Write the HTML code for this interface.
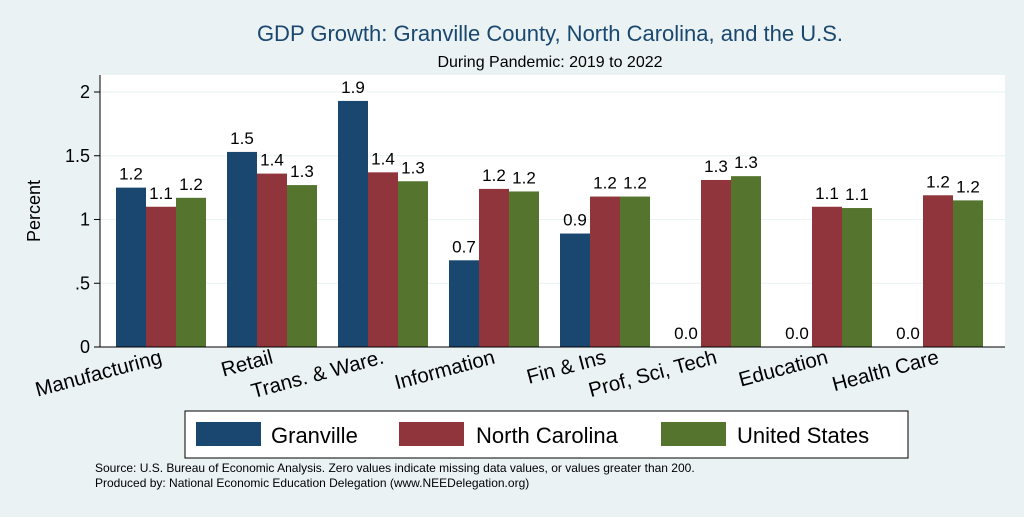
<!DOCTYPE html>
<html><head><meta charset="utf-8"><style>
body{margin:0;background:#eaf2f3;font-family:"Liberation Sans",sans-serif;}
</style></head><body>
<svg id="c" width="1024" height="512" xmlns="http://www.w3.org/2000/svg" font-family="Liberation Sans, sans-serif">
<rect width="1024" height="512" fill="#eaf2f3"/>
<text x="550" y="41" font-size="22" fill="#1a476f" text-anchor="middle">GDP Growth: Granville County, North Carolina, and the U.S.</text>
<text x="550" y="67" font-size="16" fill="#000" text-anchor="middle">During Pandemic: 2019 to 2022</text>
<rect x="100" y="75" width="905" height="272" fill="#fff"/>
<text transform="translate(40,211) rotate(-90)" font-size="18" text-anchor="middle">Percent</text>
<g id="grid"></g><g id="bars"></g>
<line x1="100" y1="75" x2="100" y2="347" stroke="#000"/>
<line x1="100" y1="347" x2="1005" y2="347" stroke="#000"/>
<rect x="185" y="411" width="723" height="47" fill="#fff" stroke="#000"/>
<g><rect x="196" y="422" width="65" height="24" fill="#1a476f"/><text x="271" y="443" font-size="22">Granville</text></g>
<g><rect x="399" y="422" width="65" height="24" fill="#90353b"/><text x="476" y="443" font-size="22">North Carolina</text></g>
<g><rect x="661" y="422" width="65" height="24" fill="#55752f"/><text x="737" y="443" font-size="22">United States</text></g>
<text x="95" y="472" font-size="12">Source: U.S. Bureau of Economic Analysis. Zero values indicate missing data values, or values greater than 200.</text>
<text x="95" y="487" font-size="12">Produced by: National Economic Education Delegation (www.NEEDelegation.org)</text>
</svg>
<script>
const categories=["Manufacturing","Retail","Trans. & Ware.","Information","Fin & Ins","Prof, Sci, Tech","Education","Health Care"];
const granville=[1.25,1.53,1.93,0.68,0.89,0,0,0];
const northCarolina=[1.10,1.36,1.37,1.24,1.18,1.31,1.10,1.19];
const unitedStates=[1.17,1.27,1.30,1.22,1.18,1.34,1.09,1.15];
const granvilleLabels=["1.2","1.5","1.9","0.7","0.9","0.0","0.0","0.0"];
const ncLabels=["1.1","1.4","1.4","1.2","1.2","1.3","1.1","1.2"];
const usLabels=["1.2","1.3","1.3","1.2","1.2","1.3","1.1","1.2"];
const yTicks=[0,0.5,1,1.5,2];
const yTickLabels=["0",".5","1","1.5","2"];
const NS="http://www.w3.org/2000/svg";
const y=v=>347-v*127.5;
const xc=i=>161+i*111;
const grid=document.getElementById('grid'),bars=document.getElementById('bars');
function mk(tag,a,p){const e=document.createElementNS(NS,tag);for(const k in a)e.setAttribute(k,a[k]);p.appendChild(e);return e;}
yTicks.forEach((t,i)=>{
 if(t>0){const g=mk('line',{x1:100,x2:1005,y1:y(t),y2:y(t),stroke:'#eaf2f3','stroke-width':1},grid);
 
 }
 const tk=mk('line',{x1:94,x2:100,y1:y(t),y2:y(t),stroke:'#000'},grid);
 
 
 const tx=mk('text',{x:90,y:y(t)+6,'font-size':18,'text-anchor':'end'},grid);tx.textContent=yTickLabels[i];
 
 
});
const series=[[granville,granvilleLabels,'#1a476f','granville'],[northCarolina,ncLabels,'#90353b','north-carolina'],[unitedStates,usLabels,'#55752f','united-states']];
categories.forEach((c,i)=>{
 series.forEach((s,j)=>{
  const v=s[0][i],x0=xc(i)-45+j*30;
  const r=mk('rect',{x:x0,y:y(v),width:30,height:347-y(v),fill:s[2]},bars);
  
  
  const t=mk('text',{x:x0+15,y:y(v)-8,'font-size':17,'text-anchor':'middle'},bars);t.textContent=s[1][i];
  
  
 });
 const lx=xc(i)+2,ly=363;
 const lb=mk('text',{x:lx,y:ly,'font-size':20.5,'text-anchor':'end',transform:`rotate(-15 ${lx} ${ly})`},bars);lb.textContent=c;
 
 
});
</script>
</body></html>
